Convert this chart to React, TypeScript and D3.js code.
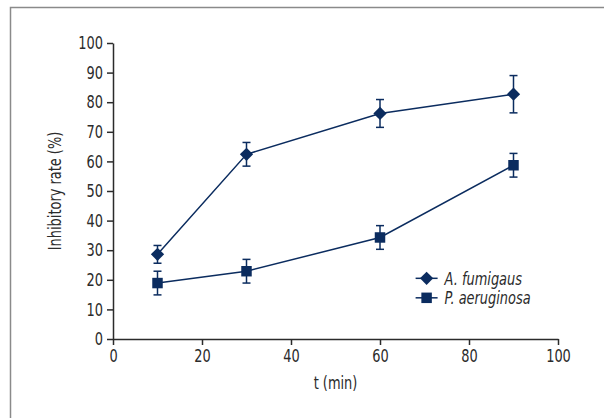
import { useEffect, useRef } from 'react';
import * as d3 from 'd3';

const WIDTH = 604;
const HEIGHT = 418;
const MARGIN = { top: 43, left: 113 };
const COLOR = '#0b2c5f';
const AXIS = '#2b2b2b';
const FONT = '"DejaVu Sans Condensed", "Liberation Sans Narrow", sans-serif';
const FS = '18px';
const SX = 0.8; // squeeze text to mimic a condensed face

const times = [10, 30, 60, 90];
const fumigausMean = [28.6, 62.4, 76.2, 82.7];
const fumigausErr = [3, 4, 4.7, 6.3];
const aeruginosaMean = [18.9, 22.9, 34.3, 58.7];
const aeruginosaErr = [4, 4, 4, 4];
const xTicks = [0, 20, 40, 60, 80, 100];
const yTicks = [0, 10, 20, 30, 40, 50, 60, 70, 80, 90, 100];

const seriesList = [
  { name: 'A. fumigaus', shape: 'diamond', mean: fumigausMean, err: fumigausErr },
  { name: 'P. aeruginosa', shape: 'square', mean: aeruginosaMean, err: aeruginosaErr },
];

export default function App() {
  const svgRef = useRef<SVGSVGElement>(null);

  useEffect(() => {
    const svg = d3.select(svgRef.current);
    svg.selectAll('*').remove();

    // frame
    svg.append('rect')
      .attr('x', 10.5).attr('y', 7.5)
      .attr('width', WIDTH).attr('height', HEIGHT)
      .attr('fill', 'none').attr('stroke', '#8a8a8a').attr('stroke-width', 1.5);

    const x = d3.scaleLinear().domain([0, 100]).range([0, 445]);
    const y = d3.scaleLinear().domain([0, 100]).range([296, 0]);

    const g = svg.append('g').attr('transform', `translate(${MARGIN.left},${MARGIN.top})`);

    // axes
    const xAxis = g.append('g')
      .attr('transform', `translate(0,${y(0)})`)
      .call(d3.axisBottom(x).tickValues(xTicks).tickSize(6).tickSizeOuter(0).tickPadding(4));
    const yAxis = g.append('g')
      .call(d3.axisLeft(y).tickValues(yTicks).tickSize(6).tickSizeOuter(0).tickPadding(4));

    [xAxis, yAxis].forEach(a => {
      a.select('.domain').attr('stroke', AXIS).attr('stroke-width', 1.5);
      a.selectAll('.tick line').attr('stroke', AXIS).attr('stroke-width', 1.5);
      a.selectAll('.tick text')
        .attr('fill', AXIS)
        .attr('font-family', FONT)
        .attr('font-size', FS)
        .attr('transform', `scale(${SX},1)`);
    });
    yAxis.selectAll('.tick text').attr('x', -10 / SX);

    // lines + error bars + markers
    const sym = {
      diamond: d3.symbol().type(d3.symbolSquare).size(88),
      square: d3.symbol().type(d3.symbolSquare).size(110),
    };
    const rot = { diamond: 45, square: 0 };

    seriesList.forEach(s => {
      const shape = s.shape as 'diamond' | 'square';
      const pts = times.map((t, i) => ({ t, v: s.mean[i], e: s.err[i] }));
      const line = d3.line<any>().x(d => x(d.t)).y(d => y(d.v));
      g.append('path')
        .datum(pts)
        .attr('d', line)
        .attr('fill', 'none')
        .attr('stroke', COLOR)
        .attr('stroke-width', 1.5);

      const eb = g.append('g').selectAll('g').data(pts).join('g');
      eb.append('line')
        .attr('x1', d => x(d.t)).attr('x2', d => x(d.t))
        .attr('y1', d => y(d.v + d.e)).attr('y2', d => y(d.v - d.e))
        .attr('stroke', COLOR).attr('stroke-width', 1.5);
      [1, -1].forEach(sg => {
        eb.append('line')
          .attr('x1', d => x(d.t) - 4).attr('x2', d => x(d.t) + 4)
          .attr('y1', d => y(d.v + sg * d.e)).attr('y2', d => y(d.v + sg * d.e))
          .attr('stroke', COLOR).attr('stroke-width', 1.5);
      });

      g.append('g').selectAll('path').data(pts).join('path')
        .attr('transform', d => `translate(${x(d.t)},${y(d.v)}) rotate(${rot[shape]})`)
        .attr('d', sym[shape]())
        .attr('fill', COLOR);
    });

    // legend
    const legend = g.append('g').attr('transform', `translate(${x(68)},${y(20.5)})`);
    seriesList.forEach((s, i) => {
      const shape = s.shape as 'diamond' | 'square';
      const row = legend.append('g').attr('transform', `translate(0,${i * 19.5})`);
      row.append('line').attr('x1', 0).attr('x2', 22).attr('y1', 0).attr('y2', 0)
        .attr('stroke', COLOR).attr('stroke-width', 1.5);
      row.append('path')
        .attr('transform', `translate(11,0) rotate(${rot[shape]})`)
        .attr('d', sym[shape]())
        .attr('fill', COLOR);
      row.append('text')
        .attr('transform', `scale(${SX},1)`)
        .attr('x', 29 / SX).attr('y', 0).attr('dy', '0.35em')
        .attr('font-family', FONT).attr('font-style', 'italic')
        .attr('font-size', FS).attr('fill', AXIS)
        .text(s.name);
    });

    // axis labels
    g.append('text')
      .attr('transform', `scale(${SX},1)`)
      .attr('x', x(50) / SX).attr('y', y(0) + 50)
      .attr('text-anchor', 'middle')
      .attr('font-family', FONT).attr('font-size', FS).attr('fill', AXIS)
      .text('t (min)');
    g.append('text')
      .attr('transform', `rotate(-90) scale(${SX},1)`)
      .attr('x', -y(50) / SX).attr('y', -52)
      .attr('text-anchor', 'middle')
      .attr('font-family', FONT).attr('font-size', FS).attr('fill', AXIS)
      .text('Inhibitory rate (%)');
  }, []);

  return (
    <div style={{ position: 'absolute', left: 0, top: 0, width: WIDTH, height: HEIGHT, overflow: 'hidden', background: '#fff' }}>
      <svg ref={svgRef} width={WIDTH} height={HEIGHT} />
    </div>
  );
}
